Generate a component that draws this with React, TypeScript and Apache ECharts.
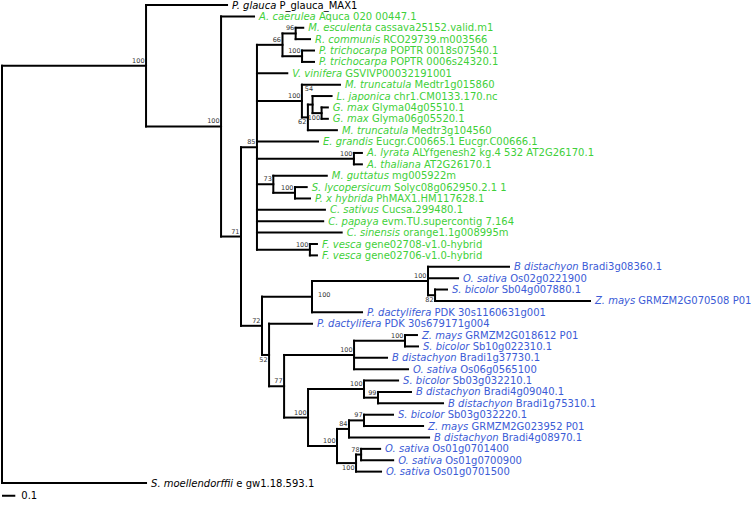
import React, { useEffect, useRef } from "react";
import * as echarts from "echarts";

// ---------- DATA ----------
// Leaves in display order (top to bottom)
const leafSpecies = [
  "P. glauca", "A. caerulea", "M. esculenta", "R. communis", "P. trichocarpa", "P. trichocarpa",
  "V. vinifera", "M. truncatula", "L. japonica", "G. max", "G. max", "M. truncatula",
  "E. grandis", "A. lyrata", "A. thaliana", "M. guttatus", "S. lycopersicum", "P. x hybrida",
  "C. sativus", "C. papaya", "C. sinensis", "F. vesca", "F. vesca",
  "B distachyon", "O. sativa", "S. bicolor", "Z. mays", "P. dactylifera", "P. dactylifera",
  "Z. mays", "S. bicolor", "B distachyon", "O. sativa", "S. bicolor", "B distachyon",
  "B distachyon", "S. bicolor", "Z. mays", "B distachyon", "O. sativa", "O. sativa", "O. sativa",
  "S. moellendorffii",
];
const leafGenes = [
  "P_glauca_MAX1", "Aquca 020 00447.1", "cassava25152.valid.m1", "RCO29739.m003566",
  "POPTR 0018s07540.1", "POPTR 0006s24320.1", "GSVIVP00032191001", "Medtr1g015860",
  "chr1.CM0133.170.nc", "Glyma04g05510.1", "Glyma06g05520.1", "Medtr3g104560",
  "Eucgr.C00665.1 Eucgr.C00666.1", "ALYfgenesh2 kg.4 532 AT2G26170.1", "AT2G26170.1",
  "mg005922m", "Solyc08g062950.2.1 1", "PhMAX1.HM117628.1", "Cucsa.299480.1",
  "evm.TU.supercontig 7.164", "orange1.1g008995m", "gene02708-v1.0-hybrid", "gene02706-v1.0-hybrid",
  "Bradi3g08360.1", "Os02g0221900", "Sb04g007880.1", "GRMZM2G070508 P01", "PDK 30s1160631g001",
  "PDK 30s679171g004", "GRMZM2G018612 P01", "Sb10g022310.1", "Bradi1g37730.1", "Os06g0565100",
  "Sb03g032210.1", "Bradi4g09040.1", "Bradi1g75310.1", "Sb03g032220.1", "GRMZM2G023952 P01",
  "Bradi4g08970.1", "Os01g0701400", "Os01g0700900", "Os01g0701500", "e gw1.18.593.1",
];
// 0 = outgroup, 1 = eudicots/basal, 2 = monocots
const leafGroups = [
  0, 1, 1, 1, 1, 1, 1, 1, 1, 1, 1, 1, 1, 1, 1, 1, 1, 1, 1, 1, 1, 1, 1,
  2, 2, 2, 2, 2, 2, 2, 2, 2, 2, 2, 2, 2, 2, 2, 2, 2, 2, 2, 0,
];
const leafParents = [
  "A", "B", "n96", "n96", "nPt", "nPt", "D", "nLeg", "n54", "nGm", "nGm", "n62",
  "D", "nAra", "nAra", "n73", "nSol", "nSol", "D", "D", "D", "nFv", "nFv",
  "n428", "n428", "n82", "n82", "n312", "n52", "nZS", "nZS", "n100a", "n100a",
  "n100c", "n99", "n99", "n97", "n97", "n84", "n78", "n78", "n100e", "root",
];
const leafLengths = [
  0.609, 0.248, 0.057, 0.108, 0.090, 0.090, 0.228, 0.286, 0.143, 0.047, 0.047, 0.218,
  0.459, 0.060, 0.060, 0.402, 0.088, 0.113, 0.511, 0.498, 0.637, 0.053, 0.053,
  0.609, 0.226, 0.090, 1.165, 0.376, 0.323, 0.090, 0.098, 0.248, 0.406,
  0.256, 0.248, 0.489, 0.218, 0.444, 0.602, 0.143, 0.241, 0.188, 1.083,
];
// Internal nodes (parents listed before children)
const nodeIds = [
  "A", "B", "C", "D", "n66", "n96", "nPt", "nLeg", "n62", "n54", "nGm", "nAra", "n73", "nSol",
  "nFv", "E", "n312", "n428", "n82", "n52", "n77", "n100a", "nZS", "n100b", "n100c", "n99",
  "n100d", "n84", "n97", "n100e", "n78",
];
const nodeParents = [
  "root", "A", "B", "C", "D", "n66", "n66", "D", "nLeg", "n62", "n54", "D", "D", "n73",
  "D", "C", "E", "n312", "n428", "E", "n52", "n77", "n100a", "n77", "n100b", "n100c",
  "n100b", "n100d", "n84", "n100d", "n100e",
];
const nodeLengths = [
  1.083, 0.564, 0.150, 0.120, 0.192, 0.099, 0.147, 0.338, 0.045, 0.035, 0.068, 0.729, 0.123, 0.163,
  0.398, 0.158, 0.376, 0.872, 0.053, 0.053, 0.113, 0.526, 0.383, 0.180, 0.421, 0.105,
  0.218, 0.090, 0.113, 0.143, 0.038,
];
const nodeSupports = [
  100, 100, 71, 85, 66, 96, 100, 100, 62, 54, 100, 100, 73, 100,
  100, 72, 100, 100, 82, 52, 77, 100, 100, 100, 100, 99,
  100, 84, 97, 100, 78,
];
const scaleBarLength = 0.1;
const scaleBarLabel = "0.1";

// ---------- STYLE ----------
const groupColors = ["#000000", "#3fd03a", "#3b5bd6"];
// support label placement: a = above branch, b = below, r = right of node, t = above top child
const supportPlacement: Record<string, string> = {
  n62: "b", nGm: "b", n54: "t", n312: "r", n82: "b", n52: "b", n100e: "b",
};
const FONT = "DejaVu Sans";
const LEAF_FONT_SIZE = 10;

// ---------- LAYOUT ----------
function buildItems() {
  const xOf: Record<string, number> = { root: 0 };
  nodeIds.forEach((id, k) => {
    xOf[id] = xOf[nodeParents[k]] + nodeLengths[k];
  });
  const childYs: Record<string, number[]> = {};
  leafParents.forEach((p, i) => {
    (childYs[p] = childYs[p] || []).push(i);
  });
  const yOf: Record<string, number> = {};
  const span: Record<string, [number, number]> = {};
  const order = [...nodeIds].reverse().concat(["root"]);
  order.forEach((id) => {
    const ys = childYs[id];
    const lo = Math.min(...ys);
    const hi = Math.max(...ys);
    span[id] = [lo, hi];
    yOf[id] = (lo + hi) / 2;
    const k = nodeIds.indexOf(id);
    if (k >= 0) {
      const p = nodeParents[k];
      (childYs[p] = childYs[p] || []).push(yOf[id]);
    }
  });
  const items: number[][] = [];
  items.push([0, 0, yOf.root, span.root[0], span.root[1], 0, -1]);
  nodeIds.forEach((id, k) => {
    items.push([xOf[nodeParents[k]], xOf[id], yOf[id], span[id][0], span[id][1], 0, k]);
  });
  leafParents.forEach((p, i) => {
    items.push([xOf[p], xOf[p] + leafLengths[i], i, i, i, 1, i]);
  });
  items.push([0, scaleBarLength, leafSpecies.length + 0.12, 0, 0, 2, 0]);
  return items;
}

export default function App() {
  const ref = useRef<HTMLDivElement>(null);
  useEffect(() => {
    if (!ref.current) return;
    const chart = echarts.init(ref.current, undefined, { renderer: "svg" });
    const items = buildItems();
    const lineStyle = { stroke: "#000", lineWidth: 2, lineCap: "square" as const };
    chart.setOption({
      animation: false,
      backgroundColor: "#ffffff",
      grid: { left: 2, right: 84, top: 5, bottom: 26 },
      xAxis: { type: "value", min: 0, max: 5, show: false },
      yAxis: { type: "value", min: 0, max: leafSpecies.length - 1, inverse: true, show: false },
      series: [
        {
          type: "custom",
          coordinateSystem: "cartesian2d",
          clip: false,
          data: items,
          renderItem: (params: any, api: any) => {
            const px = api.value(0);
            const x = api.value(1);
            const y = api.value(2);
            const y0 = api.value(3);
            const y1 = api.value(4);
            const kind = api.value(5);
            const idx = api.value(6);
            const a = api.coord([px, y]);
            const b = api.coord([x, y]);
            const children: any[] = [];
            if (kind === 2) {
              children.push({
                type: "line",
                shape: { x1: a[0], y1: a[1], x2: b[0], y2: b[1] },
                style: { stroke: "#000", lineWidth: 2 },
              });
              children.push({
                type: "text",
                x: b[0] + 6,
                y: b[1],
                style: {
                  text: scaleBarLabel, fill: "#000", fontSize: LEAF_FONT_SIZE, fontFamily: FONT,
                  align: "left", verticalAlign: "middle",
                },
              });
              return { type: "group", children };
            }
            if (px !== x) {
              children.push({
                type: "line",
                shape: { x1: a[0], y1: a[1], x2: b[0], y2: b[1] },
                style: lineStyle,
              });
            }
            if (kind === 0) {
              const t = api.coord([x, y0]);
              const u = api.coord([x, y1]);
              children.push({
                type: "line",
                shape: { x1: t[0], y1: t[1], x2: u[0], y2: u[1] },
                style: lineStyle,
              });
              if (idx >= 0) {
                const place = supportPlacement[nodeIds[idx]] || "a";
                let lx = b[0] - 1.5;
                let ly = b[1] - 5;
                let align = "right";
                if (place === "b") ly = b[1] + 5;
                if (place === "r") {
                  lx = b[0] + 6;
                  ly = b[1] - 1.5;
                  align = "left";
                }
                if (place === "t") {
                  lx = b[0] + 0.5;
                  ly = t[1] - 7;
                }
                children.push({
                  type: "text",
                  x: lx,
                  y: ly,
                  style: {
                    text: String(nodeSupports[idx]), fill: "#333", fontSize: 6.5, fontFamily: FONT,
                    align, verticalAlign: "middle",
                  },
                });
              }
            } else {
              const color = groupColors[leafGroups[idx]];
              children.push({
                type: "text",
                x: b[0] + 5,
                y: b[1],
                style: {
                  text: `{i|${leafSpecies[idx]}} {n|${leafGenes[idx]}}`,
                  fill: color, fontSize: LEAF_FONT_SIZE, fontFamily: FONT,
                  align: "left", verticalAlign: "middle",
                  rich: {
                    i: { fontStyle: "italic", fill: color, fontSize: LEAF_FONT_SIZE, fontFamily: FONT },
                    n: { fill: color, fontSize: LEAF_FONT_SIZE, fontFamily: FONT },
                  },
                },
              });
            }
            return { type: "group", children };
          },
        },
      ],
    });
    return () => chart.dispose();
  }, []);
  return (
    <div
      ref={ref}
      style={{ position: "fixed", left: 0, top: 0, width: 751, height: 509, background: "#fff" }}
    />
  );
}
